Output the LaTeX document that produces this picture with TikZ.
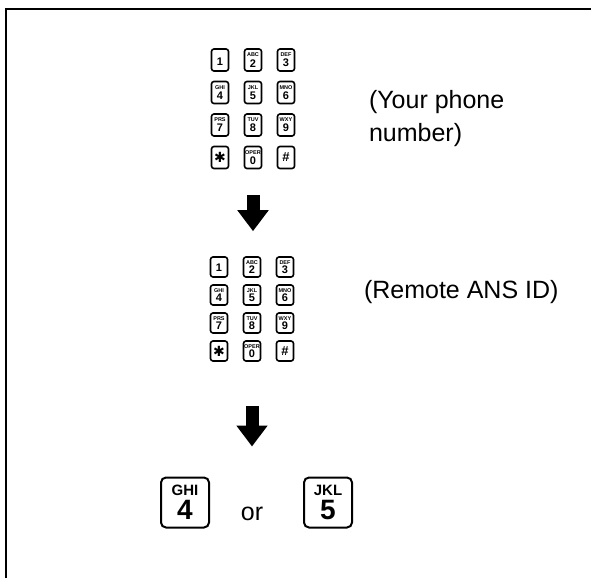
\documentclass[tikz,border=0pt]{standalone}
\usepackage{fontspec}
\setmainfont{Liberation Sans}
\newfontfamily\symfont{DejaVu Sans}
\usetikzlibrary{arrows.meta, positioning}
\tikzset{
  every picture/.style={line width=2pt},
  key/.style={draw, rounded corners=2.5pt, minimum width=17pt, minimum height=22pt, inner sep=0pt, align=center,
    line width=1.6pt, font=\fontsize{6}{6}\selectfont},
  smallkey/.style={key, minimum height=20pt},
  bigkey/.style={draw, rounded corners=5pt, minimum width=48pt, minimum height=50pt, inner sep=0pt, align=center,
    line width=2pt, font=\fontsize{15}{15}\selectfont},
  bigarrow/.style={-{Triangle[width=30pt, length=21pt]}, line width=13pt},
  caption/.style={font=\fontsize{25}{33}\selectfont, inner sep=0pt, align=left},
}
\newcommand\klet[1]{{\fontsize{5.5}{6}\selectfont\bfseries #1}}
\newcommand\kdig[1]{{\fontsize{11}{10}\selectfont\bfseries #1}}
\newcommand\blet[1]{{\fontsize{15}{15}\selectfont\bfseries #1}}
\newcommand\bdig[1]{{\fontsize{28}{24}\selectfont\bfseries #1}}
\newcommand\kstar{{\symfont\fontsize{14}{14}\selectfont ✱}}

\begin{document}
\begin{tikzpicture}[x=1pt, y=-1pt]
  \useasboundingbox (0,0) rectangle (591,578);
  % open frame, top and left only
  \draw (5.5,578) -- (5.5,9.5) -- (591,9.5);

  % keypad 1: your phone number
  \foreach \d/\l/\c/\r in {1//0/0, 2/ABC/1/0, 3/DEF/2/0, 4/GHI/0/1, 5/JKL/1/1, 6/MNO/2/1,
                           7/PRS/0/2, 8/TUV/1/2, 9/WXY/2/2, 0/OPER/1/3}
    \node[key] (p1-\d) at (220+33*\c, 60+32.5*\r) {\klet{\l}\\[1.5pt]\kdig{\d}};
  \node[key] (p1-star) at (220,157.5) {\kstar};
  \node[key] (p1-hash) at (286,157.5) {\kdig{\fontsize{13}{13}\selectfont\#}};
  \node[caption, anchor=north west] (yours) at (368,89) {(Your phone\\number)};

  % keypad 2: remote ANS ID
  \foreach \d/\l/\c/\r in {1//0/0, 2/ABC/1/0, 3/DEF/2/0, 4/GHI/0/1, 5/JKL/1/1, 6/MNO/2/1,
                           7/PRS/0/2, 8/TUV/1/2, 9/WXY/2/2, 0/OPER/1/3}
    \node[smallkey] (p2-\d) at (219+33*\c, 267+28*\r) {\klet{\l}\\[0.5pt]\kdig{\d}};
  \node[smallkey] (p2-star) at (219,351) {\kstar};
  \node[smallkey] (p2-hash) at (285,351) {\kdig{\fontsize{13}{13}\selectfont\#}};
  \node[caption, anchor=base west] (remote) at (363,298) {(Remote ANS ID)};

  % last step: one of two keys
  \node[bigkey] (kG) at (185,502.5) {\blet{GHI}\\[4pt]\bdig{4}};
  \node[bigkey] (kJ) at (328,502.5) {\blet{JKL}\\[4pt]\bdig{5}};
  \node[caption, anchor=base] (ortext) at (252,520) {or};

  \draw[bigarrow, shorten <=26pt, shorten >=25pt] (p1-0.south) -- (p1-0.south |- p2-2.north);
  \draw[bigarrow, shorten <=44pt, shorten >=30pt] (p2-0.south) -- (p2-0.south |- kG.north);
\end{tikzpicture}
\end{document}
